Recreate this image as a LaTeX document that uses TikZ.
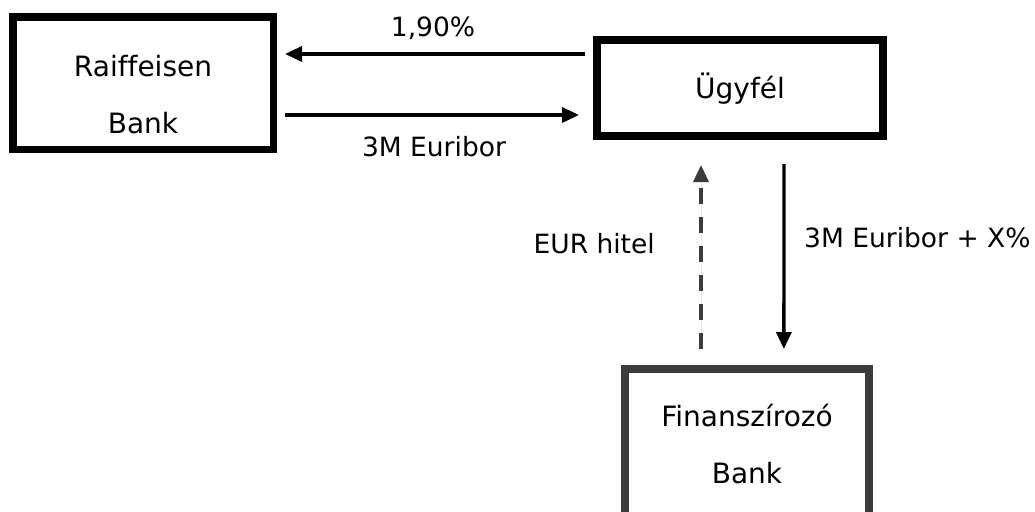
\documentclass[tikz,border=0pt]{standalone}
\usepackage{fontspec}
\setmainfont{DejaVu Sans}[Ligatures=CommonOff]
\usetikzlibrary{arrows.meta,calc}
\definecolor{dk}{HTML}{3C3C3C}
\begin{document}
\begin{tikzpicture}[x=1pt,y=-1pt,
  box/.style={draw, rectangle, inner sep=0pt},
  boxtext/.style={font=\fontsize{28}{57}\selectfont, align=center, inner sep=0pt},
  lbl/.style={font=\fontsize{26.5}{32}\selectfont, inner sep=0pt},
  arr/.style={line width=3.3pt, -{Triangle[length=17pt,width=15pt]}},
]
\clip (0,0) rectangle (1035,511);
\fill[white] (0,0) rectangle (1035,511);
% boxes
\node[box, line width=7.5pt, minimum width=260.5pt, minimum height=132.2pt] (rai) at (143,83.2) {};
\node[box, line width=8pt, minimum width=286pt, minimum height=96pt] (ugy) at (740,88) {};
\node[box, draw=dk, line width=8pt, minimum width=244.3pt, minimum height=147pt] (fin) at (746.85,442.5) {};
% box texts
\node[boxtext, anchor=base] (rait) at (143,133) {Raiffeisen\\Bank};
\node[boxtext, anchor=base] (ugyt) at (740,98) {Ügyfél};
\node[boxtext, anchor=base] (fint) at (747,483) {Finanszírozó\\Bank};
% connector end points
\coordinate (a1s) at ($(ugy.west)+(-8,-34)$);
\coordinate (a1e) at ($(rai.east)+(8,-29.2)$);
\coordinate (a2s) at ($(rai.east)+(8,31.8)$);
\coordinate (a2e) at ($(ugy.west)+(-14,27)$);
\coordinate (a3s) at ($(fin.north)+(-45.85,-16)$);
\coordinate (a3e) at ($(ugy.south)+(-39,25)$);
\coordinate (a4s) at ($(ugy.south)+(44,24)$);
\coordinate (a4e) at ($(fin.north)+(37,-16)$);
% connectors
\draw[arr] (a1s) -- (a1e);
\draw[arr] (a2s) -- (a2e);
\draw[arr, draw=dk, fill=dk, dash pattern=on 16.5pt off 12.5pt] (a3s) -- (a3e);
\draw[arr] (a4s) -- (a4e);
% labels
\node[lbl, anchor=base] (l1) at (433,36.7) {1,90\%};
\node[lbl, anchor=base] (l2) at (434,156.7) {3M Euribor};
\node[lbl, anchor=base east] (l3) at (655,253.3) {EUR hitel};
\node[lbl, anchor=base west] (l4) at (804,247.3) {3M Euribor + X\%};
\end{tikzpicture}
\end{document}
